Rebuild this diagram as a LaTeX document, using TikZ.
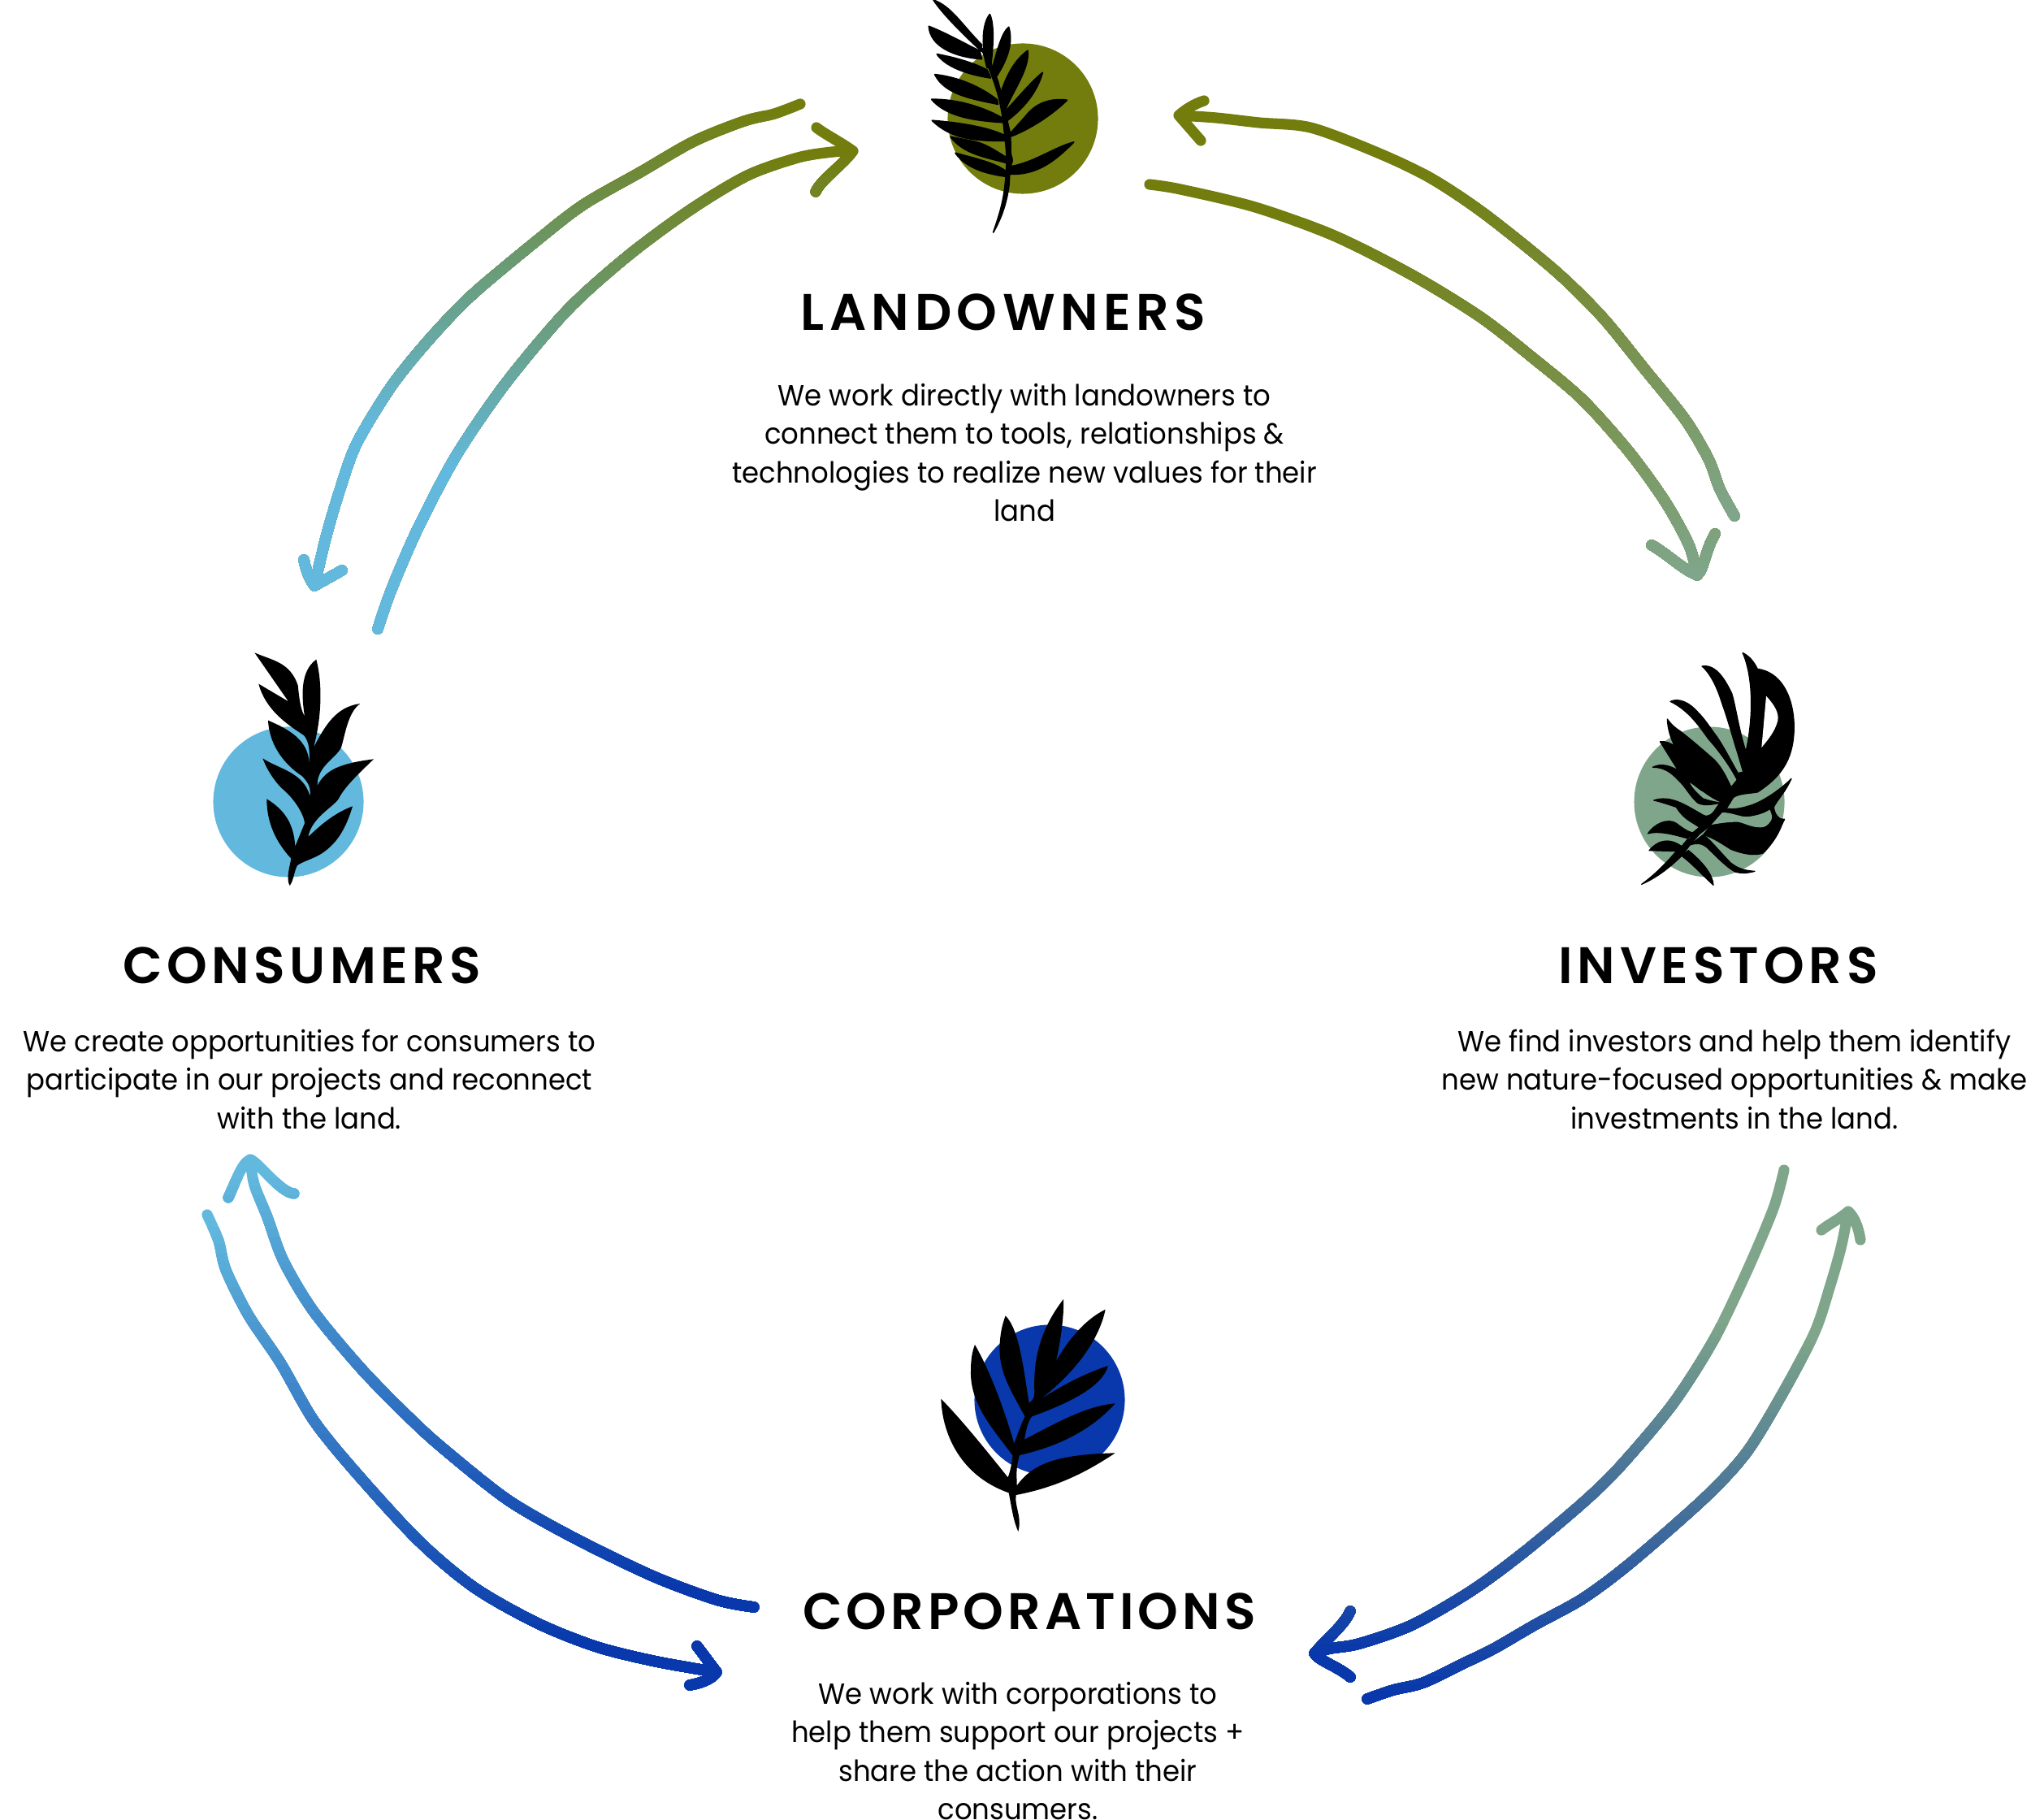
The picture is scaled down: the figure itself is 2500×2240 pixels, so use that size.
\documentclass[tikz,border=0pt]{standalone}
\usepackage{fontspec}
\setmainfont{Poppins}
\newfontfamily\headfont[LetterSpace=10.3]{Poppins SemiBold}
\newfontfamily\headfontb[LetterSpace=8.6]{Poppins SemiBold}
\newfontfamily\headfontc[LetterSpace=9.2]{Poppins SemiBold}
\newfontfamily\headfontd[LetterSpace=8.0]{Poppins SemiBold}
\newfontfamily\bodyfont[FakeStretch=0.945]{Poppins}
\definecolor{olive}{HTML}{727D0D}
\definecolor{sky}{HTML}{62B9DD}
\definecolor{sage}{HTML}{7FA68A}
\definecolor{royal}{HTML}{0838AB}
\tikzset{
  x=0.01cm,y=-0.01cm,
  disc/.style={circle,fill=#1,minimum size=1.85cm,inner sep=0pt,draw=none},
  heading/.style={font=#1\fontsize{18}{22}\selectfont,text=black,inner sep=0pt},
  para/.style={font=\bodyfont\fontsize{10.2}{13.5}\selectfont,text=black,align=center,inner sep=0pt},
  brush/.style={line width=3.75pt,line cap=round,line join=round},
  frond/.style={fill=black,draw=none},
  wobble/.style={smooth,tension=0.5},
}
% top colour, bottom colour, y of top, y of bottom, path
\newcommand\gradflow[5]{%
  \foreach \k in {0,...,49}{%
    \pgfmathsetmacro\yy{ifthenelse(\k==0,0,#3+(#4-#3)/50*\k)}%
    \pgfmathsetmacro\pc{\k/49*100}%
    \begin{scope}
      \clip (0,\yy) rectangle (2500,2240);
      \draw[brush,draw=#2!\pc!#1] #5;
    \end{scope}}}
\begin{document}
\begin{tikzpicture}
\useasboundingbox (0,0) rectangle (2500,2240);
% discs
\node[disc=olive] (dLand) at (1259,146) {};
\node[disc=sky] (dCons) at (355,987) {};
\node[disc=sage] (dInv) at (2104,987) {};
\node[disc=royal] (dCorp) at (1292,1723) {};
% ---- top frond
\begin{scope}[shift={(1100,0)},scale=0.33333,frond/.append style={draw=black,line width=0.5pt,line join=round}]
\fill[frond] (368,858) .. controls (395,780) and (410,730) .. (415,640) .. controls (420,580) and (415,540) .. (410,500) .. controls (405,440) and (395,370) .. (370,300) .. controls (355,260) and (340,220) .. (325,180) -- (345,180) .. controls (355,230) and (370,260) .. (385,300) .. controls (405,370) and (415,430) .. (425,470) .. controls (435,500) and (430,550) .. (433,570) .. controls (436,585) and (442,590) .. (435,605) .. controls (425,630) and (430,650) .. (425,690) .. controls (415,760) and (395,810) .. (368,858) -- cycle;
\fill[frond] (147,0) .. controls (215,25) and (250,90) .. (325,165) -- (325,190) .. controls (250,120) and (180,50) .. (147,0) -- cycle;
\fill[frond] (130,97) .. controls (200,125) and (260,160) .. (318,188) -- (325,218) .. controls (220,210) and (135,170) .. (130,97) -- cycle;
\fill[frond] (355,53) .. controls (372,90) and (368,170) .. (358,250) -- (345,250) .. controls (325,180) and (325,90) .. (355,53) -- cycle;
\fill[frond] (425,100) .. controls (442,160) and (420,220) .. (378,285) -- (365,250) .. controls (385,180) and (400,120) .. (425,100) -- cycle;
\fill[frond] (160,200) .. controls (240,215) and (300,235) .. (345,258) -- (358,288) .. controls (270,275) and (190,245) .. (160,200) -- cycle;
\fill[frond] (495,187) .. controls (502,250) and (450,320) .. (412,405) -- (395,345) .. controls (420,270) and (450,220) .. (495,187) -- cycle;
\fill[frond] (152,275) .. controls (240,285) and (320,320) .. (382,368) -- (385,385) .. controls (290,365) and (190,350) .. (152,275) -- cycle;
\fill[frond] (550,268) .. controls (530,340) and (480,400) .. (420,445) -- (415,408) .. controls (460,360) and (510,300) .. (550,268) -- cycle;
\fill[frond] (140,367) .. controls (240,365) and (340,400) .. (400,435) -- (405,452) .. controls (280,445) and (190,425) .. (140,367) -- cycle;
\fill[frond] (640,370) .. controls (580,362) and (530,380) .. (495,420) .. controls (470,450) and (450,470) .. (433,490) -- (435,503) .. controls (520,470) and (600,410) .. (640,370) -- cycle;
\fill[frond] (142,445) .. controls (270,455) and (360,475) .. (410,500) -- (412,520) .. controls (300,520) and (215,515) .. (142,445) -- cycle;
\fill[frond] (210,505) -- (295,522) .. controls (340,530) and (380,560) .. (418,582) -- (418,602) .. controls (340,580) and (260,570) .. (210,505) -- cycle;
\fill[frond] (228,565) .. controls (300,585) and (370,600) .. (412,630) -- (418,652) .. controls (320,640) and (260,610) .. (228,565) -- cycle;
\fill[frond] (665,525) .. controls (590,545) and (520,600) .. (430,615) -- (425,642) .. controls (530,650) and (600,590) .. (665,525) -- cycle;
\end{scope}
% ---- left frond
\begin{scope}[shift={(240,780)},scale=0.33333]
\fill[frond] (350,930) .. controls (335,905) and (350,860) .. (355,830)
 .. controls (300,770) and (265,700) .. (265,610)
 .. controls (330,650) and (365,700) .. (370,785)
 -- (405,700) .. controls (405,680) and (380,620) .. (320,570) .. controls (290,540) and (265,500) .. (250,460)
 .. controls (310,500) and (400,510) .. (425,600)
 .. controls (428,570) and (420,550) .. (395,525) .. controls (340,490) and (275,420) .. (270,320)
 .. controls (340,350) and (420,390) .. (422,480)
 .. controls (425,430) and (420,395) .. (402,375) .. controls (340,335) and (260,280) .. (235,185)
 -- (345,250) -- (220,70)
 .. controls (290,100) and (350,105) .. (380,190) .. controls (385,240) and (390,280) .. (405,305)
 .. controls (395,240) and (385,140) .. (448,95)
 .. controls (470,180) and (470,300) .. (438,420)
 .. controls (480,340) and (520,270) .. (610,258)
 .. controls (565,290) and (555,370) .. (540,420) .. controls (520,460) and (450,490) .. (452,560)
 .. controls (480,510) and (520,480) .. (660,463)
 .. controls (590,530) and (550,570) .. (530,610) .. controls (510,640) and (430,680) .. (418,750)
 .. controls (470,700) and (520,660) .. (582,637)
 .. controls (560,710) and (530,770) .. (470,810) .. controls (440,830) and (400,840) .. (378,855)
 .. controls (365,880) and (365,910) .. (350,930) -- cycle;
\end{scope}
% ---- right frond
\begin{scope}[shift={(2000,780)},scale=0.33333,frond/.append style={draw=black,line width=0.35pt,line join=round}]
% stem
\fill[frond] (62,925) .. controls (110,890) and (150,850) .. (190,803) -- (220,778) -- (250,745) -- (275,715) -- (320,675) -- (350,625) -- (375,645) -- (355,650) -- (335,670) -- (320,705) -- (275,740) -- (240,780) -- (215,815) .. controls (170,860) and (120,900) .. (62,925) -- cycle;
% upper left mass
\fill[frond] (157,315) .. controls (175,340) and (190,350) .. (205,360) .. controls (250,395) and (290,430) .. (330,465) .. controls (360,495) and (380,540) .. (393,567) -- (415,540) -- (400,605) -- (375,645) -- (350,625) .. controls (320,632) and (290,635) .. (270,625) .. controls (240,600) and (225,565) .. (197,540) .. controls (170,510) and (140,492) .. (103,493) .. controls (130,478) and (165,485) .. (197,505) -- (130,398) .. controls (150,395) and (170,405) .. (185,415) .. controls (170,390) and (158,350) .. (157,315) -- cycle;
\fill[sage] (240,550) .. controls (265,565) and (270,575) .. (290,585) .. controls (310,600) and (335,615) .. (352,622) .. controls (325,618) and (305,612) .. (290,607) .. controls (270,590) and (250,570) .. (240,550) -- cycle;
% leaf A
\fill[frond] (168,250) .. controls (200,235) and (240,255) .. (270,290) .. controls (300,320) and (320,355) .. (340,380) .. controls (370,425) and (395,475) .. (418,515) -- (415,540) .. controls (395,500) and (355,440) .. (310,390) .. controls (280,350) and (240,285) .. (168,250) -- cycle;
% leaf B
\fill[frond] (285,120) .. controls (340,110) and (375,180) .. (395,220) .. controls (410,270) and (420,350) .. (447,435) -- (437,510) .. controls (425,470) and (420,450) .. (410,420) .. controls (395,370) and (375,300) .. (360,260) .. controls (345,210) and (320,150) .. (285,120) -- cycle;
% hook leaf
\fill[frond] (435,70) .. controls (465,85) and (480,110) .. (490,130) .. controls (570,140) and (622,220) .. (625,340) .. controls (625,450) and (590,520) .. (490,585) .. controls (460,590) and (420,590) .. (400,605) -- (375,645) -- (393,567) -- (415,540) -- (418,515) -- (437,510) -- (447,435) .. controls (475,310) and (475,160) .. (435,70) -- cycle;
\fill[white] (522,230) .. controls (550,260) and (570,290) .. (565,320) .. controls (555,360) and (530,390) .. (505,420) -- cycle;
% right leaf
\fill[frond] (375,645) .. controls (400,650) and (430,645) .. (460,635) .. controls (500,625) and (570,580) .. (615,535) .. controls (590,590) and (565,610) .. (550,640) .. controls (552,665) and (570,690) .. (590,685) .. controls (575,710) and (570,750) .. (510,810) .. controls (480,820) and (440,815) .. (390,795) .. controls (360,775) and (320,750) .. (290,742) -- (320,705) -- (340,660) -- cycle;
\fill[sage] (320,705) -- (360,660) .. controls (400,660) and (430,680) .. (460,675) .. controls (490,670) and (510,665) .. (535,650) .. controls (545,670) and (545,680) .. (540,690) .. controls (525,712) and (515,715) .. (500,715) .. controls (460,715) and (430,692) .. (410,695) .. controls (380,695) and (350,700) .. (320,705) -- cycle;
% lower leaves
\fill[frond] (107,615) .. controls (170,595) and (220,630) .. (290,670) .. controls (310,680) and (325,665) .. (340,640) -- (320,680) -- (275,715) .. controls (260,700) and (220,690) .. (190,640) .. controls (160,630) and (130,620) .. (107,615) -- cycle;
\fill[frond] (85,738) .. controls (110,700) and (160,680) .. (190,700) .. controls (210,715) and (230,730) .. (250,735) -- (275,715) -- (250,745) -- (230,755) .. controls (190,745) and (130,725) .. (85,738) -- cycle;
\fill[frond] (90,800) .. controls (120,765) and (160,750) .. (210,785) -- (235,755) -- (220,780) -- (190,803) -- cycle;
\fill[frond] (290,742) .. controls (320,765) and (355,810) .. (390,845) .. controls (420,870) and (450,875) .. (480,877) .. controls (450,885) and (430,885) .. (410,880) .. controls (385,870) and (340,825) .. (310,795) .. controls (290,775) and (270,770) .. (240,780) -- cycle;
\fill[frond] (327,928) .. controls (325,890) and (290,845) .. (235,800) -- (210,820) .. controls (250,850) and (280,885) .. (327,928) -- cycle;
\end{scope}
% ---- bottom frond
\begin{scope}[shift={(1130,1580)},scale=0.33333]
\fill[frond] (370,915) .. controls (350,870) and (345,820) .. (335,772)
 .. controls (160,710) and (90,560) .. (85,425)
 .. controls (150,490) and (240,600) .. (332,715)
 .. controls (345,680) and (345,660) .. (350,635)
 .. controls (290,550) and (190,450) .. (195,320) .. controls (195,280) and (200,250) .. (210,225)
 .. controls (270,330) and (320,470) .. (355,590)
 .. controls (370,550) and (380,520) .. (395,490)
 .. controls (340,390) and (295,320) .. (302,220) .. controls (305,170) and (315,140) .. (323,118)
 .. controls (375,170) and (390,320) .. (410,440)
 .. controls (425,430) and (430,420) .. (430,400)
 .. controls (425,280) and (450,170) .. (537,57)
 .. controls (540,120) and (525,220) .. (510,285)
 .. controls (560,200) and (620,130) .. (692,95)
 .. controls (670,200) and (590,320) .. (450,428)
 .. controls (540,370) and (620,330) .. (702,303)
 .. controls (680,380) and (560,440) .. (420,490)
 .. controls (405,510) and (398,545) .. (393,575)
 .. controls (500,520) and (620,450) .. (728,442)
 .. controls (640,540) and (520,600) .. (375,633)
 .. controls (360,680) and (365,710) .. (365,745)
 .. controls (420,670) and (500,630) .. (728,625)
 .. controls (630,690) and (520,750) .. (362,780)
 .. controls (355,820) and (385,860) .. (370,915) -- cycle;
\end{scope}
% ---- labels
\node[heading=\headfont] (hLand) at (1235,384) {LANDOWNERS};
\node[para] (tLand) at (1261,557) {We work directly with landowners to\\connect them to tools, relationships \&\\technologies to realize new values for their\\land};
\node[heading=\headfontb] (hCons) at (372,1188) {CONSUMERS};
\node[para] (tCons) at (381,1328) {We create opportunities for consumers to\\participate in our projects and reconnect\\with the land.};
\node[heading=\headfontc] (hInv) at (2115,1188) {INVESTORS};
\node[para] (tInv) at (2135,1328) {We find investors and help them identify\\new nature-focused opportunities \& make\\investments in the land.};
\node[heading=\headfontd] (hCorp) at (1267,1983) {CORPORATIONS};
\node[para] (tCorp) at (1253,2155) {We work with corporations to\\help them support our projects +\\share the action with their\\consumers.};
% ---- connector end points
\coordinate (a1s) at (985,128); \coordinate (a1e) at (387,721);
\coordinate (a2s) at (465,774); \coordinate (a2e) at (1050,186);
\coordinate (a3s) at (1415,227); \coordinate (a3e) at (2089,708);
\coordinate (a4s) at (2135,635); \coordinate (a4e) at (1451,142);
\coordinate (a5s) at (2196,1440); \coordinate (a5e) at (1618,2035);
\coordinate (a6s) at (1683,2091); \coordinate (a6e) at (2275,1491);
\coordinate (a7s) at (928,1978); \coordinate (a7e) at (308,1427);
\coordinate (a8s) at (255,1495); \coordinate (a8e) at (882,2058);
% ---- connectors
\gradflow{olive}{sky}{128}{530}{plot[wobble] coordinates {(a1s) (953,140) (916,149) (854,174) (788,212) (718,252) (661,296) (581,363) (529,417) (482,475) (439,546) (418,604) (401,662) (a1e)} (374,689) .. controls (377,703) and (381,713) .. (a1e) -- (421,702)}
\gradflow{olive}{sky}{186}{580}{plot[wobble] coordinates {(a2s) (482,725) (515,649) (562,560) (623,471) (699,381) (774,314) (850,258) (920,216) (982,194) (1024,187) (a2e)} (1005,157) .. controls (1015,165) and (1035,175) .. (a2e) .. controls (1035,205) and (1010,222) .. (1004,236)}
\gradflow{olive}{sage}{260}{708}{plot[wobble] coordinates {(a3s) (1453,233) (1545,255) (1642,290) (1739,339) (1822,390) (1885,439) (1948,492) (2006,557) (2050,618) (2079,671) (a3e)} (2033,671) .. controls (2050,680) and (2070,700) .. (a3e) .. controls (2098,700) and (2098,680) .. (2111,657)}
\gradflow{olive}{sage}{200}{635}{plot[wobble] coordinates {(a4s) (2117,602) (2103,565) (2074,516) (2025,455) (1972,390) (1914,333) (1827,263) (1759,218) (1691,186) (1613,157) (1550,151) (1497,145) (a4e)} (1482,124) .. controls (1470,128) and (1460,134) .. (a4e) -- (1478,173)}
\gradflow{sage}{royal}{1620}{2040}{plot[wobble] coordinates {(a5s) (2183,1487) (2151,1563) (2110,1648) (2059,1728) (1995,1804) (1949,1849) (1875,1911) (1811,1958) (1738,2000) (1673,2023) (1637,2029) (a5e)} (1662,1983) .. controls (1655,2000) and (1630,2020) .. (a5e) .. controls (1625,2045) and (1645,2050) .. (1662,2064)}
\gradflow{sage}{royal}{1640}{2091}{plot[wobble] coordinates {(a6s) (1715,2080) (1752,2071) (1802,2047) (1839,2029) (1889,2000) (1949,1967) (2009,1922) (2100,1842) (2151,1786) (2197,1710) (2234,1639) (2252,1585) (2266,1536) (a6e)} (2242,1514) .. controls (2252,1506) and (2265,1500) .. (a6e) .. controls (2283,1498) and (2288,1512) .. (2290,1526)}
\gradflow{sky}{royal}{1440}{1960}{plot[wobble] coordinates {(a7s) (882,1969) (804,1940) (707,1893) (625,1846) (547,1784) (505,1746) (446,1686) (386,1614) (349,1552) (329,1498) (313,1458) (a7e)} (281,1474) .. controls (290,1455) and (297,1432) .. (a7e) .. controls (318,1430) and (345,1468) .. (362,1469)}
\gradflow{sky}{royal}{1500}{2030}{plot[wobble] coordinates {(a8s) (269,1527) (278,1563) (306,1619) (345,1677) (386,1748) (437,1811) (515,1896) (584,1954) (662,1998) (735,2027) (808,2045) (a8e)} (858,2026) -- (a8e) .. controls (875,2068) and (860,2072) .. (849,2074)}
\end{tikzpicture}
\end{document}
